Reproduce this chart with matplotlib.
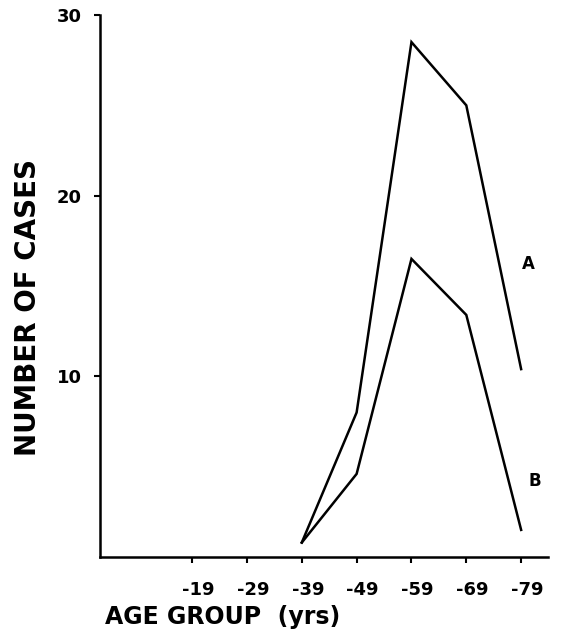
import numpy as np
import matplotlib
matplotlib.use('Agg')
import matplotlib.pyplot as plt
from matplotlib.transforms import ScaledTranslation

# 数据
age_groups = ['-19', '-29', '-39', '-49', '-59', '-69', '-79']
a_groups = ['-39', '-49', '-59', '-69', '-79']
cases_a = [0.8, 8.0, 28.5, 25.0, 10.4]
cases_b = [0.8, 4.6, 16.5, 13.4, 1.5]
y_ticks = [10, 20, 30]

plt.rcParams['font.family'] = ['DejaVu Sans']

fig = plt.figure(figsize=(5.63, 6.33), dpi=100)
ax = fig.add_axes([100 / 563, 1 - 557 / 633, 448 / 563, 542 / 633])

pos = {g: i for i, g in enumerate(age_groups)}
xa = [pos[g] for g in a_groups]

ax.plot(xa, cases_a, color='black', linewidth=1.8, solid_joinstyle='miter')
ax.plot(xa, cases_b, color='black', linewidth=1.8, solid_joinstyle='miter')

ax.text(xa[-1] + 0.13, 16.2, 'A', fontsize=12, fontweight='bold', ha='center', va='center')
ax.text(xa[-1] + 0.25, 4.2, 'B', fontsize=12, fontweight='bold', ha='center', va='center')

ax.set_xlim(-1.68, 6.49)
ax.set_ylim(0, 30)
ax.set_xticks(range(len(age_groups)))
ax.set_xticklabels(age_groups, fontsize=13, fontweight='bold')
ax.set_yticks(y_ticks)
ax.set_yticklabels([str(v) for v in y_ticks], fontsize=13, fontweight='bold')
ax.tick_params(axis='both', direction='out', length=4, width=1.5)
ax.tick_params(axis='x', pad=13)
ax.tick_params(axis='y', pad=9)

# 刻度标签稍微右移
shift = ScaledTranslation(6 / 100, 0, fig.dpi_scale_trans)
for lbl in ax.get_xticklabels():
    lbl.set_transform(lbl.get_transform() + shift)

for s in ['top', 'right']:
    ax.spines[s].set_visible(False)
for s in ['left', 'bottom']:
    ax.spines[s].set_linewidth(1.8)

fig.text(28 / 563, 1 - 308 / 633, 'NUMBER OF CASES', rotation=90, fontsize=20,
         fontweight='bold', ha='center', va='center')
fig.text(105 / 563, 1 - 617 / 633, 'AGE GROUP  (yrs)', fontsize=17,
         fontweight='bold', ha='left', va='center')

fig.savefig('out.png', dpi=100)
